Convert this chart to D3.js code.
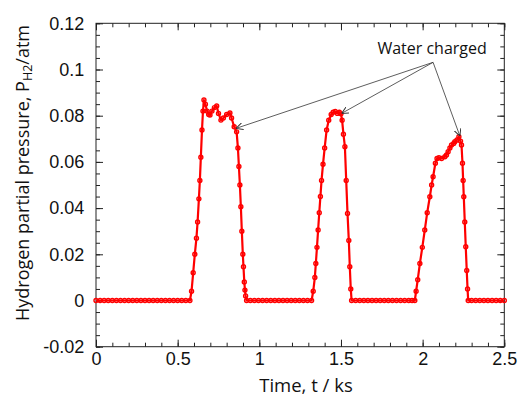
<!DOCTYPE html>
<html>
<head>
<meta charset="utf-8">
<script src="https://cdn.jsdelivr.net/npm/d3@7"></script>
<style>
  body { margin: 0; background: #fff; }
  svg { display: block; }
  .tick text { font-family: "Liberation Sans", Arial, sans-serif; font-size: 18px; fill: #111; }
</style>
</head>
<body>
<div id="chart"></div>
<script>
// time (ks) and H2 partial pressure (atm)
const timeKs = [
    0, 0.025, 0.05, 0.075, 0.1, 0.125, 0.15, 0.175, 0.2, 0.225, 0.25, 0.275, 0.3, 0.325, 0.35, 0.375,
    0.4, 0.425, 0.45, 0.475, 0.5, 0.525, 0.55, 0.575,
    0.585, 0.595, 0.605, 0.615, 0.622, 0.63, 0.636, 0.642, 0.649, 0.655, 0.661,
    0.67, 0.68, 0.69, 0.698, 0.71, 0.725, 0.739, 0.75, 0.765, 0.78, 0.8, 0.82, 0.83, 0.846, 0.861,
    0.869, 0.875, 0.881, 0.887, 0.893, 0.899, 0.903, 0.908, 0.912, 0.916, 0.922,
    0.945, 0.97, 0.995, 1.02, 1.045, 1.07, 1.095, 1.12, 1.145, 1.17, 1.195, 1.22, 1.245, 1.27, 1.295, 1.32,
    1.33, 1.34, 1.346, 1.353, 1.36, 1.367, 1.374, 1.381, 1.39, 1.4, 1.412, 1.425, 1.44, 1.452,
    1.465, 1.478, 1.49, 1.5, 1.507, 1.515, 1.524, 1.532, 1.54, 1.548, 1.554, 1.56, 1.565,
    1.59, 1.615, 1.64, 1.665, 1.69, 1.715, 1.74, 1.765, 1.79, 1.815, 1.84, 1.865, 1.89, 1.915, 1.935, 1.952,
    1.96, 1.97, 1.983, 1.998, 2.013, 2.028, 2.044, 2.055, 2.064, 2.078, 2.088, 2.1, 2.116, 2.136,
    2.146, 2.156, 2.167, 2.177, 2.19, 2.197, 2.21, 2.222, 2.232, 2.238, 2.244, 2.248, 2.252,
    2.258, 2.264, 2.27, 2.275, 2.279,
    2.3, 2.325, 2.35, 2.375, 2.4, 2.425, 2.45, 2.475, 2.5
];
const pressureAtm = [
    0, 0, 0, 0, 0, 0, 0, 0, 0, 0, 0, 0, 0, 0, 0, 0,
    0, 0, 0, 0, 0, 0, 0, 0,
    0.004, 0.012, 0.02, 0.027, 0.034, 0.044, 0.052, 0.062, 0.0738, 0.082, 0.0868,
    0.085, 0.082, 0.0805, 0.0803, 0.082, 0.0835, 0.0842, 0.081, 0.0781, 0.079, 0.0805, 0.0812, 0.079, 0.0752, 0.073,
    0.066, 0.058, 0.05, 0.0406, 0.03, 0.02, 0.0146, 0.008, 0.0045, 0.002, 0,
    0, 0, 0, 0, 0, 0, 0, 0, 0, 0, 0, 0, 0, 0, 0, 0,
    0.004, 0.01, 0.016, 0.023, 0.0305, 0.038, 0.045, 0.052, 0.059, 0.066, 0.0738, 0.078, 0.0805, 0.0815,
    0.0818, 0.081, 0.0815, 0.0808, 0.078, 0.072, 0.0666, 0.052, 0.0377, 0.026, 0.0146, 0.005, 0,
    0, 0, 0, 0, 0, 0, 0, 0, 0, 0, 0, 0, 0, 0, 0, 0,
    0.004, 0.009, 0.016, 0.023, 0.0305, 0.038, 0.0449, 0.05, 0.0536, 0.0594, 0.0615, 0.0618, 0.0615, 0.0622,
    0.063, 0.0644, 0.066, 0.0673, 0.068, 0.0687, 0.0695, 0.0709, 0.069, 0.0673, 0.0594, 0.052, 0.0449,
    0.034, 0.0233, 0.013, 0.005, 0,
    0, 0, 0, 0, 0, 0, 0, 0, 0
];

const xTicks = [0, 0.5, 1, 1.5, 2, 2.5];
const yTicks = [-0.02, 0, 0.02, 0.04, 0.06, 0.08, 0.1, 0.12];

// "Water charged" callout: label anchor and the three arrow tips
const noteText = "Water charged";
const noteT = 2.064, noteP = 0.1031;
const arrowTipT = [0.857, 1.504, 2.228];
const arrowTipP = [0.0745, 0.081, 0.0712];

const width = 520, height = 399;
const margin = { top: 23.3, right: 15.7, bottom: 52.3, left: 96 };
const innerW = width - margin.left - margin.right;
const innerH = height - margin.top - margin.bottom;

const svg = d3.select("#chart").append("svg")
    .attr("width", width)
    .attr("height", height);

const g = svg.append("g")
    .attr("transform", `translate(${margin.left},${margin.top})`);

const x = d3.scaleLinear().domain([0, 2.5]).range([0, innerW]);
const y = d3.scaleLinear().domain([-0.02, 0.12]).range([innerH, 0]);

const fmt = d => d === 0 ? "0" : String(+d.toFixed(3));
const xMinor = d3.range(0, 2.5001, 0.1).map(d => +d.toFixed(2));
const yMinor = d3.range(-0.02, 0.12001, 0.005).map(d => +d.toFixed(3));

// major + minor ticks on all four sides, pointing inward
function styleAxis(sel) {
    sel.select(".domain").remove();
    sel.selectAll(".tick line").attr("stroke", "#222").attr("stroke-width", 1);
}

g.append("g").attr("transform", `translate(0,${innerH})`)
    .call(d3.axisBottom(x).tickValues(xMinor).tickSize(-4).tickFormat(""))
    .call(styleAxis);
g.append("g").attr("transform", `translate(0,${innerH})`)
    .call(d3.axisBottom(x).tickValues(xTicks).tickSizeInner(-7).tickSizeOuter(0).tickPadding(6).tickFormat(fmt))
    .call(styleAxis);
g.append("g")
    .call(d3.axisTop(x).tickValues(xMinor).tickSize(-4).tickFormat(""))
    .call(styleAxis);
g.append("g")
    .call(d3.axisTop(x).tickValues(xTicks).tickSize(-7).tickFormat(""))
    .call(styleAxis);

g.append("g")
    .call(d3.axisLeft(y).tickValues(yMinor).tickSize(-4).tickFormat(""))
    .call(styleAxis);
g.append("g")
    .call(d3.axisLeft(y).tickValues(yTicks).tickSizeInner(-7).tickSizeOuter(0).tickPadding(11.7).tickFormat(fmt))
    .call(styleAxis);
g.append("g").attr("transform", `translate(${innerW},0)`)
    .call(d3.axisRight(y).tickValues(yMinor).tickSize(-4).tickFormat(""))
    .call(styleAxis);
g.append("g").attr("transform", `translate(${innerW},0)`)
    .call(d3.axisRight(y).tickValues(yTicks).tickSize(-7).tickFormat(""))
    .call(styleAxis);

g.append("rect")
    .attr("width", innerW)
    .attr("height", innerH)
    .attr("fill", "none")
    .attr("stroke", "#222")
    .attr("stroke-width", 1);

// data trace
const points = timeKs.map((t, i) => ({ t: t, p: pressureAtm[i] }));

g.append("path")
    .datum(points)
    .attr("fill", "none")
    .attr("stroke", "#ff0000")
    .attr("stroke-width", 2.2)
    .attr("stroke-linejoin", "round")
    .attr("d", d3.line().x(d => x(d.t)).y(d => y(d.p)));

g.selectAll("circle.pt")
    .data(points)
    .enter().append("circle")
    .attr("class", "pt")
    .attr("cx", d => x(d.t))
    .attr("cy", d => y(d.p))
    .attr("r", 2)
    .attr("fill", "none")
    .attr("stroke", "#ff0000")
    .attr("stroke-width", 1.4);

// annotation arrows
const defs = svg.append("defs");
defs.append("marker")
    .attr("id", "arrowhead")
    .attr("viewBox", "0 0 10 10")
    .attr("refX", 10)
    .attr("refY", 5)
    .attr("markerWidth", 7)
    .attr("markerHeight", 7)
    .attr("markerUnits", "userSpaceOnUse")
    .attr("orient", "auto")
    .append("path")
    .attr("d", "M0,0 L10,5 L0,10")
    .attr("fill", "none")
    .attr("stroke", "#333")
    .attr("stroke-width", 1.4);

arrowTipT.forEach((t, i) => {
    g.append("line")
        .attr("x1", x(noteT))
        .attr("y1", y(noteP))
        .attr("x2", x(t))
        .attr("y2", y(arrowTipP[i]))
        .attr("stroke", "#333")
        .attr("stroke-width", 0.8)
        .attr("marker-end", "url(#arrowhead)");
});

g.append("text")
    .attr("x", x(noteT) - 1)
    .attr("y", y(noteP) - 8)
    .attr("text-anchor", "middle")
    .attr("font-family", "'Open Sans', 'Liberation Sans', sans-serif")
    .attr("font-size", "16px")
    .attr("fill", "#111")
    .text(noteText);

// axis titles
svg.append("text")
    .attr("x", 306)
    .attr("y", 392)
    .attr("text-anchor", "middle")
    .attr("font-family", "'Open Sans', 'Liberation Sans', sans-serif")
    .attr("font-size", "18.5px")
    .attr("fill", "#111")
    .text("Time, t / ks");

const yTitle = svg.append("text")
    .attr("transform", "translate(29,173) rotate(-90)")
    .attr("text-anchor", "middle")
    .attr("font-family", "'Open Sans', 'Liberation Sans', sans-serif")
    .attr("font-size", "18px")
    .attr("fill", "#111");
yTitle.append("tspan").text("Hydrogen partial pressure, P");
yTitle.append("tspan").attr("font-size", "12.5px").attr("dy", 3).text("H2");
yTitle.append("tspan").attr("dy", -3).text("/atm");
</script>
</body>
</html>
